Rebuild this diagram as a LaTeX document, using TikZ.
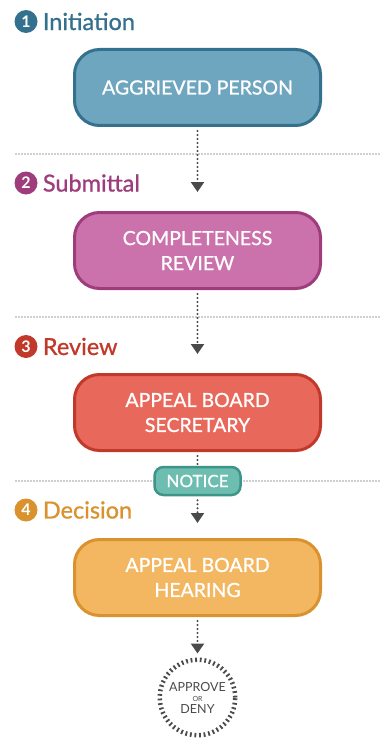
\documentclass[tikz,border=0pt]{standalone}
\usepackage{fontspec}
\setmainfont{Lato}
\newfontfamily\medfont{Lato}[FakeBold=0.9]
\usetikzlibrary{arrows.meta}

\definecolor{initdark}{HTML}{34718E}
\definecolor{initfill}{HTML}{6FA6BF}
\definecolor{subdark}{HTML}{9E3C7C}
\definecolor{subfill}{HTML}{CB72AC}
\definecolor{revdark}{HTML}{C0392B}
\definecolor{revfill}{HTML}{E8695B}
\definecolor{decdark}{HTML}{D9922E}
\definecolor{decfill}{HTML}{F3B661}
\definecolor{notdark}{HTML}{3D9488}
\definecolor{notfill}{HTML}{6EBDB1}
\definecolor{flowgray}{HTML}{4A4A4A}
\definecolor{sepgray}{HTML}{A0A0A0}

\tikzset{
  stepbox/.style={draw=#1dark, fill=#1fill, line width=3pt, rounded corners=25pt,
    minimum width=246pt, minimum height=76pt, align=center, text=white,
    font=\medfont\fontsize{19.5}{25}\selectfont},
  notebox/.style={draw=notdark, fill=notfill, line width=2.5pt, rounded corners=9pt,
    minimum width=86pt, minimum height=28pt, text=white,
    font=\medfont\fontsize{17}{18}\selectfont},
  numdot/.style={circle, fill=#1, text=white, minimum size=23pt, inner sep=0pt,
    font=\fontsize{16}{16}\selectfont\bfseries},
  phase/.style={anchor=west, text=#1, inner sep=0pt, font=\medfont\fontsize{23.5}{26}\selectfont},
  flow/.style={draw=flowgray, line width=2.2pt, dash pattern=on 0pt off 4pt, line cap=round},
  flowtip/.style={flow, -{Triangle[width=13pt,length=10pt]}},
  separator/.style={draw=sepgray, line width=1.6pt, dash pattern=on 0pt off 3pt, line cap=round},
  outcome/.style={circle, draw=flowgray, line width=4.5pt, dash pattern=on 1.8pt off 2.8pt,
    minimum size=75.5pt, inner sep=0pt, align=center, text=flowgray,
    font=\fontsize{12.5}{11}\selectfont}
}

\begin{document}
\begin{tikzpicture}[x=1pt,y=-1pt]
  \useasboundingbox (0,0) rectangle (381,741);

  % Phase separators
  \foreach \y in {154,317,481}
    \draw[separator] (16,\y) -- (381,\y);

  % Phase headings
  \foreach \n/\name/\col/\y in {1/Initiation/initdark/21.5, 2/Submittal/subdark/183,
                                3/Review/revdark/346.5, 4/Decision/decdark/510} {
    \node[numdot=\col] (num\n) at (26,\y) {\n};
    \node[phase=\col] (phase\n) at ([xshift=5pt]num\n.east) {\name};
  }

  % Steps
  \node[stepbox=init] (person) at (197.5,87.5) {AGGRIEVED PERSON};
  \node[stepbox=sub] (complete) at (197.5,250.5) {COMPLETENESS\\REVIEW};
  \node[stepbox=rev] (secretary) at (197.5,412.5) {APPEAL BOARD\\SECRETARY};
  \node[stepbox=dec] (hearing) at (197.5,577.5) {APPEAL BOARD\\HEARING};
  \node[outcome] (result) at (197.5,697.5)
    {APPROVE\\[-1pt]{\fontsize{7}{7}\selectfont OR}\\[1pt]DENY};

  % Flow
  \draw[flowtip, shorten <=4pt, shorten >=19pt] (person) -- (complete);
  \draw[flowtip, shorten <=4pt, shorten >=19pt] (complete) -- (secretary);
  \draw[flow, shorten <=4pt] (secretary) -- (197.5,481) coordinate (mid);
  \node[notebox] (notice) at (mid) {NOTICE};
  \draw[flowtip, shorten <=4pt, shorten >=15pt] (notice) -- (hearing);
  \draw[flowtip, shorten <=4pt, shorten >=4pt] (hearing) -- (result);
\end{tikzpicture}
\end{document}
